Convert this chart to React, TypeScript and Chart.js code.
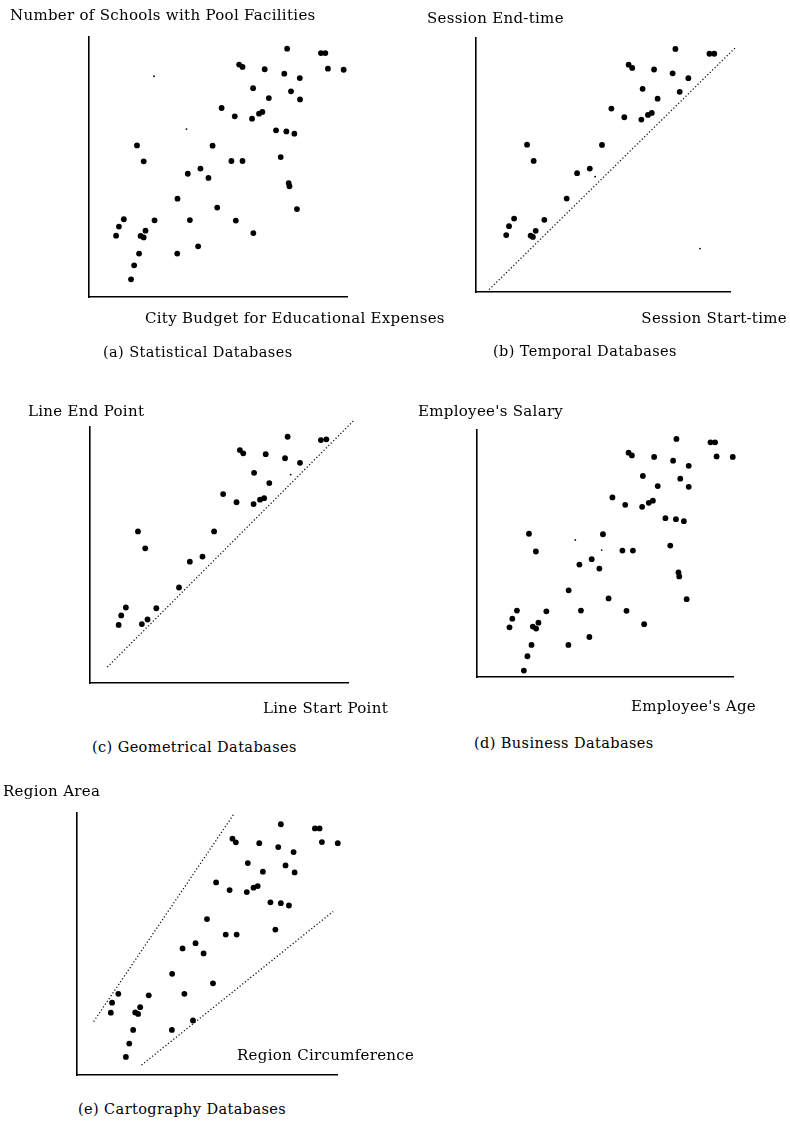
import React, { useEffect, useRef } from "react";
import { Chart, registerables } from "chart.js";

Chart.register(...registerables);

// ---------- data (normalised 0..100 on each axis) ----------
// (a) Statistical Databases
const aX = [76.8, 89.9, 91.6, 58.2, 59.5, 68.1, 75.7, 92.6, 98.7, 81.7, 63.6, 78.3, 69.7, 81.8, 51.4, 56.5, 63.2, 65.9, 67.2, 72.5, 76.5, 79.6, 18.6, 47.9, 21.2, 55.2, 59.5, 74.3, 43.2, 38.3, 46.3, 77.4, 77.7, 34.3, 49.7, 80.6, 13.5, 11.6, 25.4, 39.1, 56.9, 10.5, 20.0, 21.2, 21.9, 63.7, 19.4, 34.2, 42.3, 17.5, 16.3];
const aY = [95.5, 93.8, 93.8, 89.4, 88.5, 87.6, 85.9, 87.8, 87.4, 84.2, 80.3, 79.1, 76.5, 76.0, 72.7, 69.5, 68.6, 70.5, 71.2, 64.1, 63.7, 62.8, 58.3, 58.2, 52.2, 52.3, 52.3, 53.8, 49.4, 47.4, 45.8, 43.8, 42.6, 37.8, 34.4, 33.8, 29.9, 27.1, 29.5, 29.6, 29.4, 23.6, 23.5, 22.9, 25.5, 24.6, 16.7, 16.7, 19.5, 12.2, 6.8];
const aSpeckX = [101.3, 25.2, 37.8];
const aSpeckY = [99.4, 84.9, 64.6];

// (b) Temporal Databases
const bX = [78.5, 91.9, 93.8, 60.1, 61.5, 70.1, 77.4, 83.6, 65.6, 80.2, 71.5, 53.3, 58.4, 65.1, 67.7, 69.2, 20.1, 49.6, 22.7, 39.8, 44.8, 35.7, 15.0, 13.0, 26.9, 11.9, 21.5, 22.4, 23.5, 101.6];
const bY = [95.7, 93.8, 93.8, 89.5, 88.2, 87.6, 86.1, 84.2, 80.0, 78.8, 76.1, 72.2, 68.8, 67.9, 69.7, 70.5, 58.0, 57.9, 51.6, 46.8, 48.6, 36.8, 28.9, 25.9, 28.4, 22.4, 22.2, 21.7, 24.1, 87.2];
const bSpeckX = [103.9, 46.9, 88.2, 87.0];
const bSpeckY = [99.3, 45.4, 17.1, 105.0];
const bLineX = [4.2, 102.0];
const bLineY = [0.0, 96.1];

// (c) Geometrical Databases
const cX = [76.6, 89.5, 91.6, 58.1, 59.4, 68.1, 75.6, 81.4, 63.6, 69.5, 51.6, 56.8, 63.4, 65.9, 67.5, 18.6, 48.1, 21.4, 38.7, 43.6, 34.5, 13.9, 12.1, 25.7, 11.1, 20.1, 22.3];
const cY = [96.2, 94.9, 95.2, 91.0, 89.7, 89.4, 87.8, 86.0, 82.1, 78.1, 73.8, 70.6, 69.9, 71.6, 72.2, 59.2, 59.2, 52.6, 47.4, 49.4, 37.3, 29.5, 26.4, 29.2, 22.7, 23.0, 24.8];
const cSpeckX = [77.8];
const cSpeckY = [81.4];
const cLineX = [6.7, 102.2];
const cLineY = [6.2, 102.5];

// (d) Business Databases
const dX = [77.9, 91.2, 93.0, 59.2, 60.5, 69.2, 76.6, 93.6, 99.9, 82.7, 64.8, 79.4, 70.6, 82.7, 52.9, 57.9, 64.5, 67.1, 68.7, 73.6, 77.7, 80.8, 20.3, 49.2, 23.0, 56.8, 60.9, 75.5, 44.8, 40.0, 47.8, 78.7, 79.0, 35.8, 51.4, 81.9, 15.6, 13.8, 27.1, 40.6, 58.4, 12.7, 21.8, 23.1, 24.0, 65.3, 21.3, 35.7, 43.9, 19.7, 18.3];
const dY = [96.4, 95.0, 95.0, 90.8, 89.7, 89.1, 87.6, 89.3, 89.1, 85.5, 81.4, 80.3, 77.3, 77.0, 72.7, 69.7, 68.9, 70.5, 71.4, 64.3, 63.9, 63.1, 58.0, 57.8, 50.8, 51.2, 51.2, 53.2, 47.7, 45.5, 43.9, 42.3, 40.7, 35.1, 31.8, 31.5, 26.9, 23.6, 26.6, 26.9, 26.8, 20.1, 20.4, 19.6, 22.0, 21.4, 13.0, 13.0, 16.2, 8.4, 2.6];
const dSpeckX = [102.6, 38.4, 48.7];
const dSpeckY = [100.4, 55.5, 51.4];

// (e) Cartography Databases
const eX = [78.4, 91.5, 93.3, 59.8, 61.1, 70.1, 77.4, 94.2, 100.3, 83.3, 65.7, 80.2, 71.5, 83.7, 53.5, 58.7, 65.3, 67.9, 69.5, 74.4, 78.4, 81.5, 50.0, 57.2, 61.4, 76.3, 45.6, 40.6, 48.7, 36.6, 52.3, 15.9, 13.5, 27.6, 41.3, 13.0, 22.4, 23.5, 24.3, 44.6, 21.6, 36.5, 20.1, 18.8];
const eY = [95.7, 94.1, 94.1, 90.2, 88.8, 88.5, 87.0, 88.9, 88.5, 85.1, 80.9, 80.0, 77.6, 77.3, 73.5, 70.6, 69.8, 71.5, 72.1, 65.9, 65.6, 64.7, 59.5, 53.6, 53.6, 55.5, 50.3, 48.3, 46.4, 38.6, 35.0, 31.0, 27.6, 30.4, 31.0, 23.8, 23.9, 23.3, 25.9, 20.8, 17.2, 17.2, 12.0, 6.9];
const eSpeckX = [102.8];
const eSpeckY = [99.7];
const eUpperX = [6.4, 60.2];
const eUpperY = [20.4, 99.4];
const eLowerX = [24.8, 98.5];
const eLowerY = [3.8, 62.4];

// ---------- helpers ----------
const zip = (xs: number[], ys: number[]) => xs.map((x, i) => ({ x, y: ys[i] }));

const FONT = '"DejaVu Serif", "Liberation Serif", serif';
const PAD = 18;

type Frame = { left: number; top: number; right: number; bottom: number };

function pointsSet(xs: number[], ys: number[], r: number) {
  return {
    type: "scatter" as const,
    data: zip(xs, ys),
    backgroundColor: "#000",
    borderWidth: 0,
    pointRadius: r,
    pointHoverRadius: r,
    clip: false as any,
  };
}

function dottedSet(xs: number[], ys: number[]) {
  return {
    type: "line" as const,
    data: zip(xs, ys),
    borderColor: "#111",
    borderWidth: 1.3,
    borderDash: [1.2, 2.2],
    pointRadius: 0,
    showLine: true,
    fill: false,
    clip: false as any,
  };
}

function Panel({ frame, datasets }: { frame: Frame; datasets: any[] }) {
  const ref = useRef<HTMLCanvasElement | null>(null);
  const w = frame.right - frame.left + 2 * PAD;
  const h = frame.bottom - frame.top + 2 * PAD;
  useEffect(() => {
    if (!ref.current) return;
    const chart = new Chart(ref.current, {
      type: "scatter",
      data: { datasets },
      options: {
        animation: false,
        responsive: false,
        devicePixelRatio: 1,
        events: [],
        layout: { padding: PAD },
        plugins: { legend: { display: false }, tooltip: { enabled: false }, title: { display: false } },
        scales: {
          x: {
            type: "linear",
            min: 0,
            max: 100,
            grid: { display: false, drawTicks: false },
            ticks: { display: false },
            border: { display: true, color: "#000", width: 1.6 },
          },
          y: {
            type: "linear",
            min: 0,
            max: 100,
            grid: { display: false, drawTicks: false },
            ticks: { display: false },
            border: { display: true, color: "#000", width: 1.6 },
          },
        },
      },
    });
    return () => chart.destroy();
  }, []);
  return (
    <canvas
      ref={ref}
      width={w}
      height={h}
      style={{ position: "absolute", left: frame.left - PAD, top: frame.top - PAD, width: w, height: h }}
    />
  );
}

const R = 2.9;
const SR = 0.9;

const AX = { size: 15, ls: 0.3 };
const CAP = { size: 14.5, ls: 0.4 };

const labels: { text: string; x?: number; right?: number; y: number; size: number; ls: number }[] = [
  { text: "Number of Schools with Pool Facilities", x: 10, y: 15, ...AX },
  { text: "City Budget for Educational Expenses", x: 145, y: 318, ...AX },
  { text: "(a) Statistical Databases", x: 103, y: 353, ...CAP },
  { text: "Session End-time", x: 427, y: 18, ...AX },
  { text: "Session Start-time", right: 787, y: 318, ...AX },
  { text: "(b) Temporal Databases", x: 493, y: 352, ...CAP },
  { text: "Line End Point", x: 28, y: 411, ...AX },
  { text: "Line Start Point", right: 388, y: 708, ...AX },
  { text: "(c) Geometrical Databases", x: 92, y: 748, ...CAP },
  { text: "Employee's Salary", x: 418, y: 411, ...AX },
  { text: "Employee's Age", right: 756, y: 706, ...AX },
  { text: "(d) Business Databases", x: 474, y: 744, ...CAP },
  { text: "Region Area", x: 3, y: 791, ...AX },
  { text: "Region Circumference", x: 237, y: 1055, ...AX },
  { text: "(e) Cartography Databases", x: 78, y: 1110, ...CAP },
];

export default function App() {
  return (
    <div style={{ position: "absolute", left: 0, top: 0, width: 790, height: 1124, background: "#fff", overflow: "hidden" }}>
      <Panel
        frame={{ left: 89, top: 37, right: 347, bottom: 297 }}
        datasets={[pointsSet(aX, aY, R), pointsSet(aSpeckX, aSpeckY, SR)]}
      />
      <Panel
        frame={{ left: 476, top: 38, right: 730, bottom: 292 }}
        datasets={[dottedSet(bLineX, bLineY), pointsSet(bX, bY, R), pointsSet(bSpeckX, bSpeckY, SR)]}
      />
      <Panel
        frame={{ left: 90, top: 427, right: 348, bottom: 683 }}
        datasets={[dottedSet(cLineX, cLineY), pointsSet(cX, cY, R), pointsSet(cSpeckX, cSpeckY, SR)]}
      />
      <Panel
        frame={{ left: 477, top: 430, right: 733, bottom: 677 }}
        datasets={[pointsSet(dX, dY, R), pointsSet(dSpeckX, dSpeckY, SR)]}
      />
      <Panel
        frame={{ left: 77, top: 813, right: 337, bottom: 1075 }}
        datasets={[dottedSet(eUpperX, eUpperY), dottedSet(eLowerX, eLowerY), pointsSet(eX, eY, R), pointsSet(eSpeckX, eSpeckY, SR)]}
      />
      {labels.map((l, i) => {
        const pos: any = l.right !== undefined ? { right: 790 - l.right } : { left: l.x };
        return (
          <div
            key={i}
            style={{
              position: "absolute",
              ...pos,
              top: l.y - l.size * 0.62,
              fontFamily: FONT,
              fontSize: l.size,
              letterSpacing: `${l.ls}px`,
              lineHeight: `${Math.round(l.size * 1.2)}px`,
              whiteSpace: "nowrap",
              color: "#000",
            }}
          >
            {l.text}
          </div>
        );
      })}
    </div>
  );
}
